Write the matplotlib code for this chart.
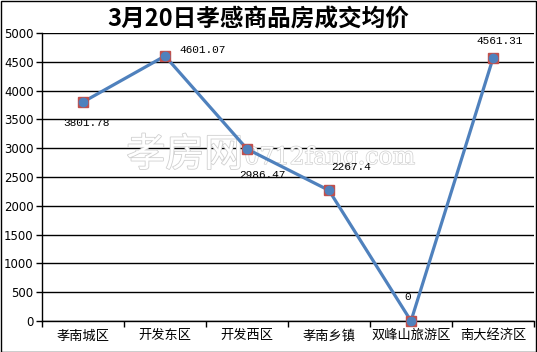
import matplotlib
matplotlib.use("Agg")
import matplotlib.pyplot as plt
import matplotlib.patheffects as pe
from matplotlib.patches import Rectangle

plt.rcParams['font.family'] = ['Noto Sans CJK SC', 'DejaVu Sans']

title = "3月20日孝感商品房成交均价"
categories = ["孝南城区", "开发东区", "开发西区", "孝南乡镇", "双峰山旅游区", "南大经济区"]
values = [3801.78, 4601.07, 2986.47, 2267.4, 0, 4561.31]
labels = ["3801.78", "4601.07", "2986.47", "2267.4", "0", "4561.31"]
yticks = [0, 500, 1000, 1500, 2000, 2500, 3000, 3500, 4000, 4500, 5000]
# label offsets in pixels (dx, dy) relative to point
label_offsets = [(3, -21), (38, 6), (15, -26), (22, 23), (-3, 24), (7, 17)]

W, H = 537, 352
fig = plt.figure(figsize=(W / 100, H / 100), dpi=100)
fig.patch.set_facecolor('white')
ax = fig.add_axes([42 / W, (H - 321) / H, (534 - 42) / W, (321 - 33) / H])

x = [i + 0.5 for i in range(len(values))]
ax.set_xlim(0, len(values))
ax.set_ylim(0, 5000)

ax.set_yticks(yticks)
ax.set_yticklabels([str(v) for v in yticks], fontsize=8.5, family='DejaVu Sans')
ax.yaxis.grid(True, color='black', linewidth=1)
ax.set_axisbelow(True)

ax.set_xticks(range(len(values) + 1))
ax.set_xticklabels([])
ax.set_xticks(x, minor=True)
ax.set_xticklabels(categories, minor=True, fontsize=9.5)
ax.tick_params(axis='x', which='major', length=4, width=1, direction='out', color='black')
ax.tick_params(axis='x', which='minor', length=0, pad=6)
ax.tick_params(axis='y', length=4, width=1, color='black', pad=2)

for s in ['top', 'right']:
    ax.spines[s].set_visible(False)
for s in ['left', 'bottom']:
    ax.spines[s].set_color('black')
    ax.spines[s].set_linewidth(1)

# watermark
ax.text(1.03, 2880, "孝房网", fontsize=28, color='white', zorder=1.5,
        va='center', ha='left',
        path_effects=[pe.withStroke(linewidth=1.2, foreground='#d0d0d0')])
ax.text(2.47, 2840, "0712fang.com", fontsize=17, color='white', zorder=1.5,
        va='center', ha='left', family='DejaVu Serif',
        path_effects=[pe.withStroke(linewidth=1.0, foreground='#d0d0d0')])

ax.plot(x, values, color='#4F81BD', linewidth=2.3, zorder=3)
ax.plot(x, values, linestyle='none', marker='s', markersize=7.5,
        markerfacecolor='#C0504D', markeredgecolor='#C0504D', zorder=4, clip_on=False)
ax.plot(x, values, linestyle='none', marker='o', markersize=6,
        markerfacecolor='#4F81BD', markeredgecolor='#4F81BD', zorder=5, clip_on=False)

for xi, v, lab, (dx, dy) in zip(x, values, labels, label_offsets):
    ax.annotate(lab, (xi, v), xytext=(dx, dy), textcoords='offset pixels',
                ha='center', va='center', fontsize=8, family='Liberation Mono',
                color='black', zorder=6)

fig.text(258 / W, 1 - 20 / H, title, ha='center', va='center',
         fontsize=17, fontweight='bold', color='black')

fig.add_artist(Rectangle((0.5 / W, 0.5 / H), 1 - 1.5 / W, 1 - 1.5 / H,
                         transform=fig.transFigure, fill=False,
                         edgecolor='black', linewidth=1))

fig.savefig("out.png", dpi=100)
